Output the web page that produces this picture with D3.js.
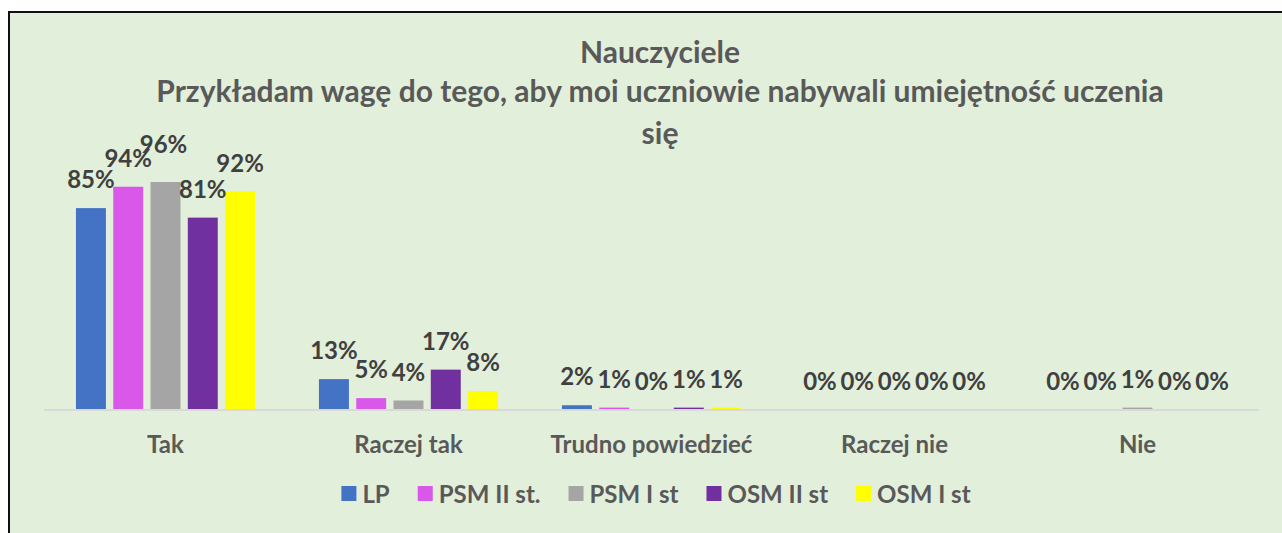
<!DOCTYPE html>
<html>
<head>
<meta charset="utf-8">
<script src="https://cdn.jsdelivr.net/npm/d3@7"></script>
<style>
  html, body { margin: 0; padding: 0; background: #ffffff; }
  svg { display: block; }
  text { font-family: Lato, "Open Sans", sans-serif; font-weight: 700; }
</style>
</head>
<body>
<svg id="chart" width="1282" height="533"></svg>
<script>
// Answer categories and the five respondent groups (values in %)
const categories = ["Tak", "Raczej tak", "Trudno powiedzieć", "Raczej nie", "Nie"];
const seriesNames = ["LP", "PSM II st.", "PSM I st", "OSM II st", "OSM I st"];
const valuesLP    = [85, 13, 2, 0, 0];
const valuesPSM2  = [94, 5, 1, 0, 0];
const valuesPSM1  = [96, 4, 0, 0, 1];
const valuesOSM2  = [81, 17, 1, 0, 0];
const valuesOSM1  = [92, 8, 1, 0, 0];
const titleLines = ["Nauczyciele",
  "Przykładam wagę do tego, aby moi uczniowie nabywali umiejętność uczenia",
  "się"];

const seriesValues = [valuesLP, valuesPSM2, valuesPSM1, valuesOSM2, valuesOSM1];
const colors = ["#4472C4", "#D957E9", "#A5A5A5", "#7030A0", "#FFFF00"];

// Overlapping value label nudged aside (category|series -> px)
const labelNudge = { "Tak|PSM I st": { dx: -2, dy: -9 } };

const svg = d3.select("#chart");
const W = 1282, H = 533;

// chart panel: light green fill with a dark frame on the top and left edges
svg.append("rect").attr("x", 9).attr("y", 12).attr("width", W).attr("height", H)
  .attr("fill", "#E2EFDA").attr("stroke", "#111").attr("stroke-width", 2);

const plot = { left: 44, right: 1259, base: 410, top: 172.5 };

const x0 = d3.scaleBand().domain(categories).range([plot.left, plot.right]).padding(0);
const groupW = x0.bandwidth() * 0.737;
const x1 = d3.scaleBand().domain(seriesNames).range([-groupW / 2, groupW / 2])
  .paddingInner(0.196).paddingOuter(0);
const y = d3.scaleLinear().domain([0, 100]).range([plot.base, plot.top]);

const rows = [];
seriesNames.forEach((s, si) => {
  categories.forEach((c, ci) => {
    rows.push({ cat: c, series: s, value: seriesValues[si][ci], color: colors[si] });
  });
});

// bars
svg.append("g").selectAll("rect").data(rows.filter(d => d.value > 0)).join("rect")
  .attr("x", d => x0(d.cat) + x0.bandwidth() / 2 + x1(d.series))
  .attr("width", x1.bandwidth())
  .attr("y", d => y(d.value))
  .attr("height", d => y(0) - y(d.value))
  .attr("fill", d => d.color);

// category axis baseline
svg.append("line")
  .attr("x1", plot.left).attr("x2", plot.right)
  .attr("y1", y(0)).attr("y2", y(0))
  .attr("stroke", "#D9D9D9").attr("stroke-width", 2);

// value labels
svg.append("g").selectAll("text").data(rows).join("text")
  .attr("x", d => x0(d.cat) + x0.bandwidth() / 2 + x1(d.series) + x1.bandwidth() / 2
    + ((labelNudge[d.cat + "|" + d.series] || {}).dx || 0))
  .attr("y", d => y(d.value) - 20 + ((labelNudge[d.cat + "|" + d.series] || {}).dy || 0))
  .attr("text-anchor", "middle")
  .attr("fill", "#404040")
  .attr("font-size", 24)
  .text(d => d.value + "%");

// category labels
svg.append("g").selectAll("text").data(categories).join("text")
  .attr("x", d => x0(d) + x0.bandwidth() / 2)
  .attr("y", 453)
  .attr("text-anchor", "middle")
  .attr("fill", "#595959")
  .attr("font-size", 24)
  .text(d => d);

// title
svg.append("g").selectAll("text").data(titleLines).join("text")
  .attr("x", 660)
  .attr("y", (d, i) => [63, 102, 144][i])
  .attr("text-anchor", "middle")
  .attr("fill", "#595959")
  .attr("font-size", 30)
  .text(d => d);

// legend, centred under the plot
const legend = svg.append("g");
const items = legend.selectAll("g").data(seriesNames).join("g");
items.append("rect").attr("width", 15).attr("height", 15).attr("y", 486)
  .attr("fill", (d, i) => colors[i]);
items.append("text").attr("x", 21).attr("y", 503)
  .attr("fill", "#595959").attr("font-size", 24).text(d => d);
let cursor = 0;
const offsets = [];
items.each(function () {
  offsets.push(cursor);
  const tw = d3.select(this).select("text").node().getComputedTextLength();
  cursor += 21 + tw + 28;
});
const totalW = cursor - 28;
const startX = 656 - totalW / 2;
items.attr("transform", (d, i) => `translate(${startX + offsets[i]},0)`);
</script>
</body>
</html>
